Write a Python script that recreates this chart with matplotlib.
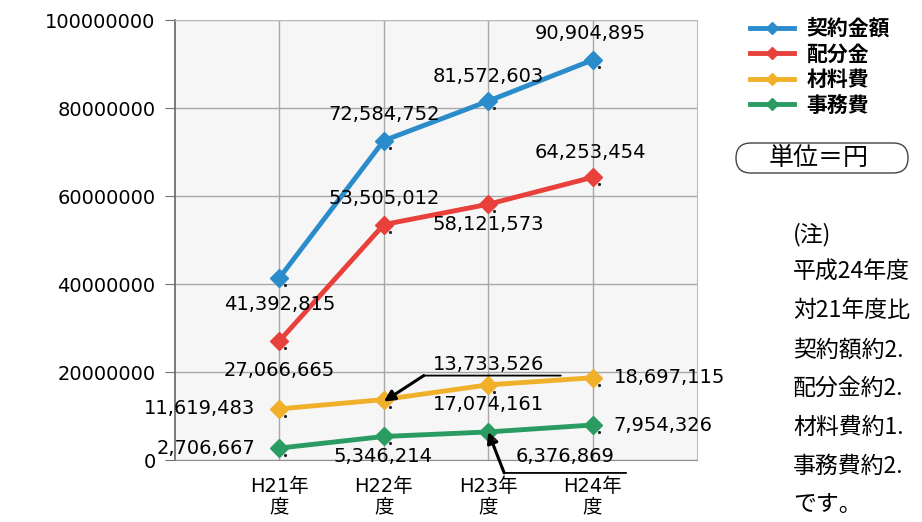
import matplotlib
matplotlib.use('Agg')
import matplotlib.pyplot as plt
from matplotlib.lines import Line2D
from matplotlib.patches import FancyBboxPatch
from matplotlib.text import OffsetFrom
from matplotlib.transforms import offset_copy

plt.rcParams['font.family'] = ['DejaVu Sans', 'Noto Sans CJK JP']

# data
years = ['H21年\n度', 'H22年\n度', 'H23年\n度', 'H24年\n度']
keiyaku = [41392815, 72584752, 81572603, 90904895]
haibun = [27066665, 53505012, 58121573, 64253454]
zairyo = [11619483, 13733526, 17074161, 18697115]
jimu = [2706667, 5346214, 6376869, 7954326]
series_names = ['契約金額', '配分金', '材料費', '事務費']
yticks = [0, 20000000, 40000000, 60000000, 80000000, 100000000]
note_title = '(注)'
note_lines = ['平成24年度', '対21年度比', '契約額約2.', '配分金約2.',
              '材料費約1.', '事務費約2.', 'です。']
unit_text = '単位＝円'

colors = ['#2b8ccc', '#e8403a', '#f0b02a', '#2a9c62']
PX = 0.72  # points per pixel at dpi 100

# label offsets in pixels (dx, dy up, ha)
label_pos = [
    [(0, -27, 'center'), (0, 26, 'center'), (0, 25, 'center'), (-2, 27, 'center')],
    [(0, -30, 'center'), (0, 26, 'center'), (0, -20, 'center'), (-2, 25, 'center')],
    [(-24, 0, 'right'), (105, 35, 'center'), (0, -20, 'center'), (21, 0, 'left')],
    [(-24, 0, 'right'), (-1, -20, 'center'), (77, -25, 'center'), (21, 0, 'left')],
]

fig = plt.figure(figsize=(9.22, 5.22), dpi=100)
ax = fig.add_axes([175 / 922, 1 - 460 / 522, 522 / 922, 440 / 522])
ax.set_facecolor('#f6f6f6')

x = list(range(1, len(years) + 1))
all_series = [keiyaku, haibun, zairyo, jimu]
dot_trans = offset_copy(ax.transData, fig=fig, x=6, y=-7, units='dots')
for vals, name, c in zip(all_series, series_names, colors):
    ax.plot(x, vals, color=c, lw=3.5, marker='D', ms=9, label=name,
            solid_capstyle='round', zorder=3)
    # the little black dots beside each marker
    ax.plot(x, vals, ls='none', marker='.', ms=2.5, color='#222222',
            transform=dot_trans, zorder=4)

ax.set_xlim(0, len(years) + 1)
ax.set_ylim(yticks[0], yticks[-1])
ax.set_xticks(x)
ax.set_xticklabels(years, fontsize=14, linespacing=1.1)
ax.set_yticks(yticks)
ax.set_yticklabels([str(v) for v in yticks], fontsize=14)
ax.tick_params(axis='x', length=0, pad=12)
ax.tick_params(axis='y', length=7, pad=7, color='#707070')
ax.grid(color='#a8a8a8', lw=1)
ax.set_axisbelow(True)
for s in ['top', 'right']:
    ax.spines[s].set_color('#bbbbbb')
ax.spines['left'].set_color('#707070')
ax.spines['bottom'].set_color('#909090')
ax.spines['left'].set_linewidth(1.3)

# data labels
for vals, pos in zip(all_series, label_pos):
    for xi, v, (dx, dy, ha) in zip(x, vals, pos):
        ax.annotate(f'{v:,}', xy=(xi, v), xytext=(dx * PX, dy * PX),
                    textcoords='offset points', ha=ha, va='center', fontsize=14,
                    annotation_clip=False, zorder=5)

# leader arrows for the two crowded labels
def leader(xi, v, start, end, tip):
    ref = OffsetFrom(ax.transData, (xi, v), unit='points')
    ax.annotate('', xy=(end[0] * PX, end[1] * PX), xycoords=ref,
                xytext=(start[0] * PX, start[1] * PX), textcoords=ref,
                arrowprops=dict(arrowstyle='-', color='black', lw=1.3,
                                shrinkA=0, shrinkB=0), annotation_clip=False)
    ax.annotate('', xy=(tip[0] * PX, tip[1] * PX), xycoords=ref,
                xytext=(start[0] * PX, start[1] * PX), textcoords=ref,
                arrowprops=dict(arrowstyle='-|>', color='black', lw=2.2,
                                mutation_scale=16, shrinkA=0, shrinkB=0),
                annotation_clip=False)

leader(x[1], zairyo[1], (40, 24), (177, 24), (0, -2))
leader(x[2], jimu[2], (16, -41), (138, -41), (0, 0))

# legend
handles = [Line2D([0], [0], color=c, lw=3.5, marker='D', ms=6) for c in colors]
fig.legend(handles, series_names, loc='upper left',
           bbox_to_anchor=(750 / 922, 1 - 18 / 522), frameon=False,
           prop={'family': 'Noto Sans CJK JP', 'size': 15, 'weight': 'bold'},
           handlelength=2.1, handletextpad=0.6, labelspacing=0.22,
           borderaxespad=0, borderpad=0)

# unit box
box = FancyBboxPatch((7.36, 5.22 - 1.73), 1.72, 0.30,
                     boxstyle='round,pad=0,rounding_size=0.15',
                     transform=fig.dpi_scale_trans, fc='white', ec='#444444', lw=1)
fig.patches.append(box)
fig.text(819 / 922, 1 - 158 / 522, unit_text, ha='center', va='center',
         fontsize=18, family='Noto Sans CJK JP')

# note
fig.text(793 / 922, 1 - 235 / 522, note_title, ha='left', va='center',
         fontsize=16.5, family='Noto Sans CJK JP')
for i, line in enumerate(note_lines):
    fig.text(793 / 922, 1 - (272 + 38.8 * i) / 522, line, ha='left', va='center',
             fontsize=16.5, family=['Noto Sans CJK JP', 'DejaVu Sans'])

fig.savefig('out.png', dpi=100)
